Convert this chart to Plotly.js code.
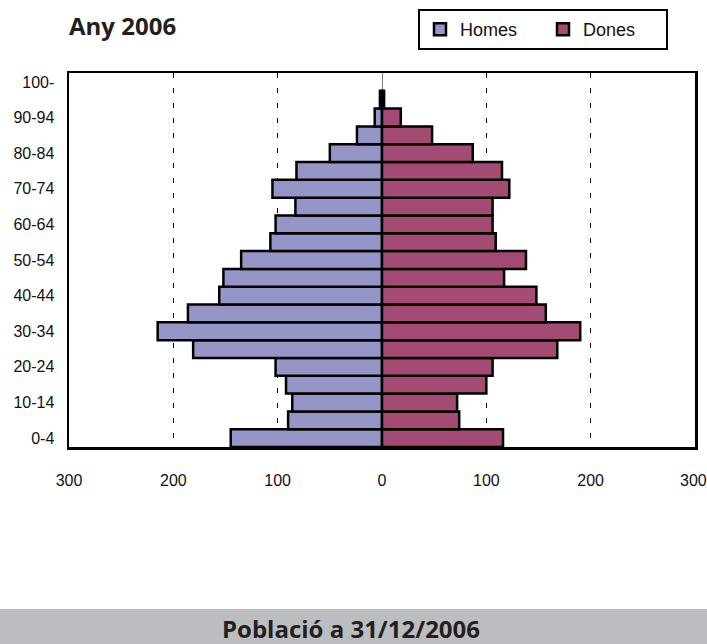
<!DOCTYPE html>
<html>
<head>
<meta charset="utf-8">
<script src="https://cdn.plot.ly/plotly-3.0.1.min.js"></script>
<style>
  html, body { margin: 0; padding: 0; background: #ffffff; }
  #chart { width: 707px; height: 644px; }
</style>
</head>
<body>
<div id="chart"></div>
<script>
// Age groups (bottom to top)
const ages = ['0-4','5-9','10-14','15-19','20-24','25-29','30-34','35-39','40-44','45-49',
              '50-54','55-59','60-64','65-69','70-74','75-79','80-84','85-89','90-94','95-99','100-'];
// Men (Homes) and women (Dones) per age group
const homes = [145, 90, 86, 92, 102, 181, 215, 186, 156, 152, 135, 107, 102, 83, 105, 82, 50, 24, 7, 2, 0];
const dones = [116, 74, 72, 100, 106, 168, 190, 157, 148, 117, 138, 109, 106, 106, 122, 115, 87, 48, 18, 2, 0];
// Age labels shown on the axis
const ageTicks = ['0-4','10-14','20-24','30-34','40-44','50-54','60-64','70-74','80-84','90-94','100-'];
// X axis ticks (the right-most label is placed as an annotation so it is not dropped at the edge)
const xTickVals = [-300, -200, -100, 0, 100, 200, 300];
const xTickText = ['300', '200', '100', '0', '100', '200', ''];
const xEdgeLabel = '300';

const lineW = 2.5;
const traceHomes = {
  type: 'bar', orientation: 'h', name: 'Homes',
  y: ages, x: homes.map(v => -v),
  marker: { color: '#9595c8', line: { color: '#000000', width: homes.map(v => v === 0 ? 0 : lineW) } },
  hoverinfo: 'skip'
};
const traceDones = {
  type: 'bar', orientation: 'h', name: 'Dones',
  y: ages, x: dones,
  marker: { color: '#a44b73', line: { color: '#000000', width: dones.map(v => v === 0 ? 0 : lineW) } },
  hoverinfo: 'skip'
};

const W = 707, H = 644, L = 69, R = 12, T = 73, B = 197;
const pw = W - L - R, ph = H - T - B;
const px = x => (x - L) / pw;
const py = y => (H - B - y) / ph;

const layout = {
  width: W, height: H,
  margin: { l: L, r: R, t: T, b: B, pad: 0, autoexpand: false },
  paper_bgcolor: '#ffffff', plot_bgcolor: '#ffffff',
  barmode: 'relative', bargap: 0,
  font: { family: 'Liberation Sans, Arial, sans-serif', color: '#111111', size: 16 },
  showlegend: true,
  legend: {
    orientation: 'h', x: px(418), xanchor: 'left', y: py(9), yanchor: 'top',
    bordercolor: '#000000', borderwidth: 2, bgcolor: '#ffffff',
    font: { family: 'Liberation Sans, Arial, sans-serif', size: 18, color: '#111111' },
    entrywidth: 78, entrywidthmode: 'pixels', traceorder: 'normal'
  },
  xaxis: {
    range: [-300, 300], tickvals: xTickVals, ticktext: xTickText,
    showgrid: true, gridcolor: '#000000', gridwidth: 1, griddash: '5px,10px',
    zeroline: true, zerolinecolor: '#808080', zerolinewidth: 1,
    showline: true, linecolor: '#000000', linewidth: 2.5, mirror: true,
    ticks: '', ticklabelstandoff: 17,
    tickfont: { family: 'Liberation Sans, Arial, sans-serif', size: 16, color: '#111111' }, fixedrange: true
  },
  yaxis: {
    type: 'category', categoryorder: 'array', categoryarray: ages,
    tickvals: ageTicks, ticktext: ageTicks,
    showgrid: false, zeroline: false,
    showline: true, linecolor: '#000000', linewidth: 2.5, mirror: true,
    ticks: '', ticklabelstandoff: 9,
    tickfont: { family: 'Liberation Sans, Arial, sans-serif', size: 16, color: '#111111' }, fixedrange: true
  },
  shapes: [
    { type: 'rect', xref: 'paper', yref: 'paper', layer: 'below',
      x0: px(0), x1: px(W), y0: py(H), y1: py(609),
      fillcolor: '#bcbdc1', line: { width: 0 } }
  ],
  annotations: [
    { text: xEdgeLabel, xref: 'paper', yref: 'paper', x: px(693), y: py(481),
      xanchor: 'center', yanchor: 'middle', showarrow: false,
      font: { family: 'Liberation Sans, Arial, sans-serif', size: 16, color: '#111111' } },
    { text: 'Any 2006', xref: 'paper', yref: 'paper', x: px(67), y: py(26),
      xanchor: 'left', yanchor: 'middle', showarrow: false,
      font: { family: 'Open Sans, sans-serif', size: 24, color: '#231f20', weight: 700 } },
    { text: 'Població a 31/12/2006', xref: 'paper', yref: 'paper', x: px(351), y: py(628),
      xanchor: 'center', yanchor: 'middle', showarrow: false,
      font: { family: 'Open Sans, sans-serif', size: 24, color: '#231f20', weight: 700 } }
  ]
};

Plotly.newPlot('chart', [traceHomes, traceDones], layout, { displayModeBar: false, staticPlot: true });
</script>
</body>
</html>
